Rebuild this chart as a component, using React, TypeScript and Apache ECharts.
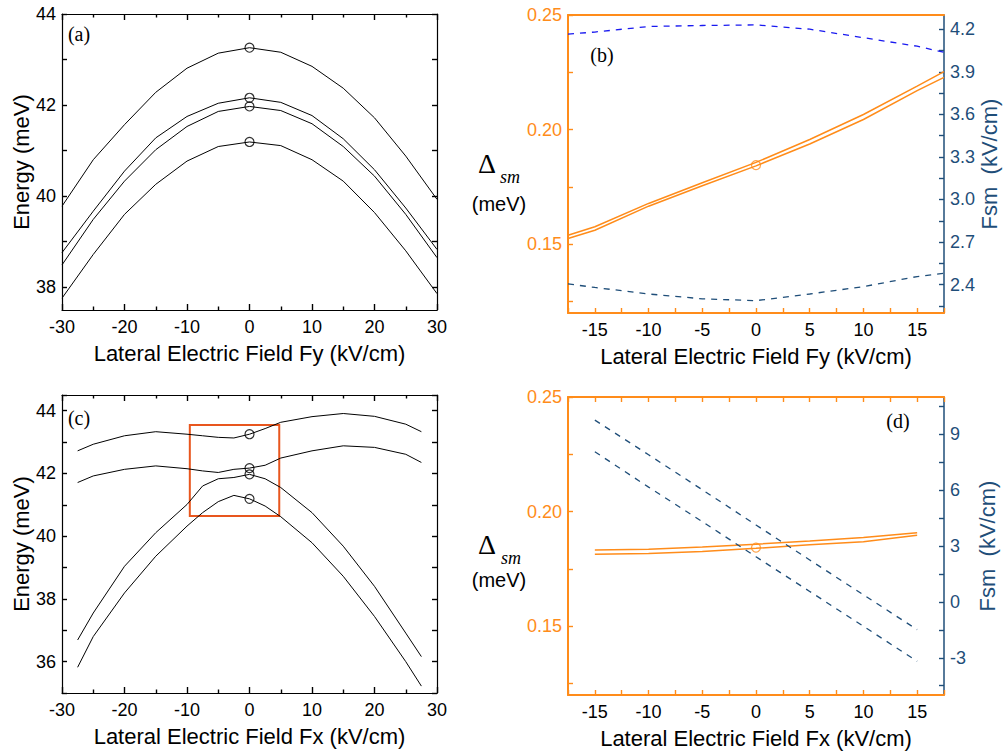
import React, { useEffect, useRef } from "react";
import * as echarts from "echarts";

// ---------- Panel (a): Energy vs Fy ----------
const aFy = [-30, -25, -20, -15, -10, -5, 0, 5, 10, 15, 20, 25, 30];
const aE1 = [39.78, 40.8, 41.57, 42.28, 42.81, 43.14, 43.26, 43.16, 42.85, 42.37, 41.72, 40.88, 39.93];
const aE2 = [38.76, 39.67, 40.55, 41.28, 41.75, 42.04, 42.16, 42.06, 41.77, 41.26, 40.58, 39.74, 38.83];
const aE3 = [38.49, 39.49, 40.33, 41.02, 41.53, 41.86, 41.97, 41.88, 41.59, 41.09, 40.44, 39.6, 38.65];
const aE4 = [37.76, 38.72, 39.6, 40.26, 40.77, 41.09, 41.19, 41.11, 40.8, 40.33, 39.64, 38.8, 37.86];
const aMarks = [43.26, 42.16, 41.97, 41.19];

// ---------- Panel (b): Delta_sm and Fsm vs Fy ----------
const bFy = [-17.5, -15, -10, -5, 0, 5, 10, 15, 17.5];
const bDeltaUpper = [0.1539, 0.1576, 0.1678, 0.1768, 0.1857, 0.1957, 0.2066, 0.219, 0.2253];
const bDeltaLower = [0.1525, 0.1561, 0.1666, 0.1755, 0.1842, 0.1937, 0.2044, 0.217, 0.2228];
const bDeltaMark = 0.1845;
const bFsmTop = [4.165, 4.18, 4.219, 4.226, 4.23, 4.2, 4.14, 4.08, 4.037];
const bFsmBottom = [2.405, 2.38, 2.334, 2.3, 2.287, 2.334, 2.386, 2.457, 2.48];

// ---------- Panel (c): Energy vs Fx ----------
const cFx = [-27.5, -25, -20, -15, -10, -7.5, -5, -2.5, 0, 2.5, 5, 10, 15, 20, 25, 27.5];
const cE1 = [42.72, 42.93, 43.2, 43.33, 43.25, 43.2, 43.15, 43.13, 43.25, 43.43, 43.63, 43.81, 43.91, 43.82, 43.57, 43.33];
const cE2 = [41.71, 41.92, 42.13, 42.24, 42.15, 42.08, 42.03, 42.13, 42.17, 42.26, 42.49, 42.72, 42.88, 42.83, 42.61, 42.35];
const cE3 = [36.69, 37.55, 39.04, 40.11, 41.01, 41.6, 41.83, 41.87, 41.97, 41.83, 41.55, 40.75, 39.68, 38.4, 36.91, 36.16];
const cE4 = [35.82, 36.8, 38.19, 39.36, 40.32, 40.75, 41.1, 41.3, 41.19, 40.96, 40.62, 39.79, 38.72, 37.44, 36.0, 35.22];
const cMarks = [43.25, 42.17, 41.97, 41.19];
const rectFx = [-9.55, 4.76];
const rectE = [40.64, 43.54];

// ---------- Panel (d): Delta_sm and Fsm vs Fx ----------
const dFx = [-15, -10, -5, 0, 5, 10, 15];
const dDeltaUpper = [0.1833, 0.1836, 0.1846, 0.1858, 0.1872, 0.1887, 0.1908];
const dDeltaLower = [0.1814, 0.1817, 0.1826, 0.184, 0.1855, 0.1869, 0.1897];
const dDeltaMark = 0.1843;
const dFsmA = [9.76, 7.9, 6.02, 4.13, 2.25, 0.38, -1.49];
const dFsmB = [8.06, 6.16, 4.31, 2.42, 0.56, -1.31, -3.19];

// tick label lists (custom positions)
const aYLabels = [38, 40, 42, 44];
const aYTicks = [38, 39, 40, 41, 42, 43, 44];
const deltaLabels = [0.15, 0.2, 0.25];
const deltaTicks = [0.125, 0.15, 0.175, 0.2, 0.225, 0.25];
const bFsmLabels = [2.4, 2.7, 3.0, 3.3, 3.6, 3.9, 4.2];
const bFsmTicks = [2.25, 2.4, 2.55, 2.7, 2.85, 3.0, 3.15, 3.3, 3.45, 3.6, 3.75, 3.9, 4.05, 4.2];
const dFsmLabels = [-3, 0, 3, 6, 9];
const dFsmTicks = [-4.5, -3, -1.5, 0, 1.5, 3, 4.5, 6, 7.5, 9, 10.5];

const ORANGE = "#FF8C1A";
const NAVY = "#1F4E79";
const BLUE = "#1A1AF0";
const RECT = "#E8561E";
const SANS = "Liberation Sans, Arial, sans-serif";
const SERIF = "Liberation Serif, Times New Roman, serif";

const zip = (xs: number[], ys: number[]) => xs.map((x, i) => [x, ys[i]]);
const near = (v: number, step: number) => Math.abs(v / step - Math.round(v / step)) < 1e-6;

function App() {
  const ref = useRef<HTMLDivElement>(null);
  useEffect(() => {
    if (!ref.current) return;
    const chart = echarts.init(ref.current, undefined, { renderer: "svg" });

    const grids = [
      { left: 62, top: 14, width: 375, height: 296 },
      { left: 568, top: 15, width: 376, height: 298 },
      { left: 62, top: 395, width: 375, height: 298 },
      { left: 568, top: 397, width: 376, height: 298 },
    ];

    const tickStyle = (color: string, len = 6) => ({
      show: true,
      inside: true,
      length: len,
      lineStyle: { color, width: 1.4 },
    });
    const minor = (color: string) => ({
      show: true,
      splitNumber: 2,
      length: 3.5,
      lineStyle: { color, width: 1.4 },
    });

    // energy panels: x from -30 to 30, major 10, minor 5
    const energyX = (grid: number, position: string, name: string) => ({
      type: "value",
      gridIndex: grid,
      position,
      min: -30,
      max: 30,
      interval: 10,
      name,
      nameLocation: "middle",
      nameGap: 32,
      nameTextStyle: { fontFamily: SANS, fontSize: 22, color: "#000" },
      axisLine: { show: true, onZero: false, lineStyle: { color: "#000", width: 1.2 } },
      axisTick: tickStyle("#000"),
      minorTick: minor("#000"),
      axisLabel:
        position === "bottom"
          ? { margin: 8, fontFamily: SANS, fontSize: 18, color: "#000" }
          : { show: false },
      splitLine: { show: false },
      minorSplitLine: { show: false },
    });

    // field panels: x from -17.5 to 17.5, ticks every 2.5, labels every 5
    const fieldX = (grid: number, position: string, ticks: boolean, name: string) => ({
      type: "value",
      gridIndex: grid,
      position,
      min: -17.5,
      max: 17.5,
      interval: 2.5,
      name,
      nameLocation: "middle",
      nameGap: 32,
      nameTextStyle: { fontFamily: SANS, fontSize: 22, color: "#000" },
      axisLine: { show: true, onZero: false, lineStyle: { color: ORANGE, width: 2 } },
      axisTick: ticks ? tickStyle(ORANGE, 5) : { show: false },
      axisLabel:
        position === "bottom"
          ? {
              margin: 8,
              fontFamily: SANS,
              fontSize: 18,
              color: "#000",
              showMinLabel: true,
              showMaxLabel: true,
              formatter: (v: number) => (near(v, 5) && Math.abs(v) < 17 ? String(Math.round(v)) : ""),
            }
          : { show: false },
      splitLine: { show: false },
    });

    const customY = (
      grid: number,
      position: string,
      min: number,
      max: number,
      labels: number[] | null,
      ticks: number[],
      color: string,
      decimals: number,
      name: string,
      nameGap: number,
      lineWidth: number
    ) => ({
      type: "value",
      gridIndex: grid,
      position,
      min,
      max,
      name,
      nameLocation: "middle",
      nameGap,
      nameRotate: 90,
      nameTextStyle: { fontFamily: SANS, fontSize: 22, color: color === ORANGE ? "#000" : color },
      axisLine: { show: true, onZero: false, lineStyle: { color, width: lineWidth } },
      axisTick: { ...tickStyle(color, 5), customValues: ticks },
      axisLabel: labels
        ? {
            customValues: labels,
            margin: 6,
            fontFamily: SANS,
            fontSize: 18,
            color,
            formatter: (v: number) => v.toFixed(decimals),
          }
        : { show: false },
      splitLine: { show: false },
    });

    const intervalY = (grid: number, position: string, showLabels: boolean, name: string) => ({
      type: "value",
      gridIndex: grid,
      position,
      min: 35,
      max: 44.5,
      interval: 1,
      name,
      nameLocation: "middle",
      nameGap: 30,
      nameRotate: 90,
      nameTextStyle: { fontFamily: SANS, fontSize: 22, color: "#000" },
      axisLine: { show: true, onZero: false, lineStyle: { color: "#000", width: 1.2 } },
      axisTick: tickStyle("#000", 5),
      axisLabel: showLabels
        ? {
            margin: 6,
            fontFamily: SANS,
            fontSize: 18,
            color: "#000",
            formatter: (v: number) => (near(v, 2) ? String(Math.round(v)) : ""),
          }
        : { show: false },
      splitLine: { show: false },
    });

    const xAxis = [
      energyX(0, "bottom", "Lateral Electric Field Fy (kV/cm)"),
      energyX(0, "top", ""),
      fieldX(1, "bottom", true, "Lateral Electric Field Fy (kV/cm)"),
      fieldX(1, "top", false, ""),
      energyX(2, "bottom", "Lateral Electric Field Fx (kV/cm)"),
      energyX(2, "top", ""),
      fieldX(3, "bottom", true, "Lateral Electric Field Fx (kV/cm)"),
      fieldX(3, "top", true, ""),
    ];

    const yAxis = [
      customY(0, "left", 37.5, 44, aYLabels, aYTicks, "#000", 0, "Energy (meV)", 30, 1.2),
      customY(0, "right", 37.5, 44, null, aYTicks, "#000", 0, "", 0, 1.2),
      customY(1, "left", 0.12, 0.25, deltaLabels, deltaTicks, ORANGE, 2, "", 0, 2),
      customY(1, "right", 2.2, 4.3, bFsmLabels, bFsmTicks, NAVY, 1, "Fsm  (kV/cm)", 32, 1.5),
      intervalY(2, "left", true, "Energy (meV)"),
      intervalY(2, "right", false, ""),
      customY(3, "left", 0.12, 0.25, deltaLabels, deltaTicks, ORANGE, 2, "", 0, 2),
      customY(3, "right", -5, 11, dFsmLabels, dFsmTicks, NAVY, 0, "Fsm  (kV/cm)", 32, 1.5),
    ];

    const line = (xi: number, yi: number, data: number[][], color: string, width: number, dashed = false) => ({
      type: "line",
      xAxisIndex: xi,
      yAxisIndex: yi,
      data,
      showSymbol: false,
      symbol: "none",
      smooth: false,
      silent: true,
      lineStyle: { color, width, type: dashed ? [6, 6] : "solid" },
      z: 3,
    });

    const marks = (xi: number, yi: number, data: number[][], color: string) => ({
      type: "scatter",
      xAxisIndex: xi,
      yAxisIndex: yi,
      data,
      symbol: "circle",
      symbolSize: 9,
      silent: true,
      itemStyle: { color: "rgba(0,0,0,0)", borderColor: color, borderWidth: 1.2 },
      z: 4,
    });

    const series: any[] = [
      line(0, 0, zip(aFy, aE1), "#000", 1),
      line(0, 0, zip(aFy, aE2), "#000", 1),
      line(0, 0, zip(aFy, aE3), "#000", 1),
      line(0, 0, zip(aFy, aE4), "#000", 1),
      marks(0, 0, aMarks.map((v) => [0, v]), "#000"),
      line(2, 2, zip(bFy, bDeltaUpper), ORANGE, 1.5),
      line(2, 2, zip(bFy, bDeltaLower), ORANGE, 1.5),
      marks(2, 2, [[0, bDeltaMark]], ORANGE),
      line(2, 3, zip(bFy, bFsmTop), BLUE, 1.3, true),
      line(2, 3, zip(bFy, bFsmBottom), NAVY, 1.3, true),
      line(4, 4, zip(cFx, cE1), "#000", 1),
      line(4, 4, zip(cFx, cE2), "#000", 1),
      line(4, 4, zip(cFx, cE3), "#000", 1),
      line(4, 4, zip(cFx, cE4), "#000", 1),
      marks(4, 4, cMarks.map((v) => [0, v]), "#000"),
      {
        type: "line",
        xAxisIndex: 4,
        yAxisIndex: 4,
        data: [],
        silent: true,
        markArea: {
          silent: true,
          itemStyle: { color: "rgba(0,0,0,0)", borderColor: RECT, borderWidth: 2 },
          data: [[{ coord: [rectFx[0], rectE[0]] }, { coord: [rectFx[1], rectE[1]] }]],
        },
      },
      line(6, 6, zip(dFx, dDeltaUpper), ORANGE, 1.5),
      line(6, 6, zip(dFx, dDeltaLower), ORANGE, 1.5),
      marks(6, 6, [[0, dDeltaMark]], ORANGE),
      line(6, 7, zip(dFx, dFsmA), NAVY, 1.3, true),
      line(6, 7, zip(dFx, dFsmB), NAVY, 1.3, true),
    ];

    const label = (text: string, x: number, y: number, size: number, extra: any = {}) => ({
      type: "text",
      x,
      y,
      silent: true,
      style: {
        text,
        fontFamily: SERIF,
        fontSize: size,
        fill: "#000",
        textAlign: "center",
        textVerticalAlign: "middle",
        ...extra,
      },
    });

    const graphic = [
      label("(a)", 79, 34, 20),
      label("(b)", 602, 55, 20),
      label("(c)", 79, 418, 20),
      label("(d)", 898, 421, 20),
      label("Δ", 487, 163, 28),
      label("sm", 510, 177, 18, { fontStyle: "italic" }),
      label("(meV)", 499, 204, 20, { fontFamily: SANS }),
      label("Δ", 487, 544, 28),
      label("sm", 511, 558, 18, { fontStyle: "italic" }),
      label("(meV)", 499, 580, 20, { fontFamily: SANS }),
    ];

    chart.setOption({
      animation: false,
      backgroundColor: "#fff",
      grid: grids,
      xAxis,
      yAxis,
      series,
      graphic,
    });
    return () => chart.dispose();
  }, []);

  return (
    <div
      ref={ref}
      style={{ position: "absolute", left: 0, top: 0, width: 1005, height: 754 }}
    />
  );
}

export default App;
